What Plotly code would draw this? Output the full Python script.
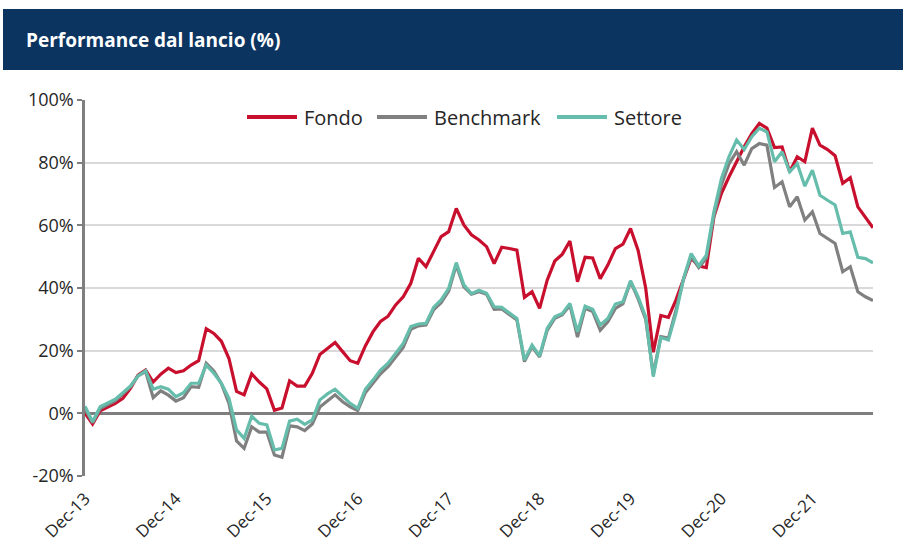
import pandas as pd
import plotly.graph_objects as go

# Monthly observations, Dec-13 .. Aug-22
months = [d.strftime("%b-%y") for d in pd.date_range("2013-12-01", periods=105, freq="MS")]
tick_labels = ["Dec-13", "Dec-14", "Dec-15", "Dec-16", "Dec-17", "Dec-18", "Dec-19", "Dec-20", "Dec-21"]
y_ticks = [-20, 0, 20, 40, 60, 80, 100]
y_tick_text = ["-20%", "0%", "20%", "40%", "60%", "80%", "100%"]

fondo = [0.0, -3.4, 0.8, 2.1, 3.2, 4.8, 8.0, 12.2, 13.8, 10.0,
         12.5, 14.4, 13.0, 13.6, 15.4, 16.8, 27.0, 25.5, 23.0, 17.5,
         7.0, 5.9, 12.6, 10.0, 7.8, 1.0, 1.7, 10.4, 8.7, 8.7,
         12.8, 18.8, 20.7, 22.6, 19.7, 16.8, 16.0, 21.5, 26.0, 29.3,
         31.0, 34.6, 37.2, 41.5, 49.5, 46.8, 51.6, 56.4, 58.0, 65.4,
         60.1, 57.0, 55.3, 53.2, 47.8, 53.0, 52.6, 52.1, 37.0, 38.8,
         33.5, 42.5, 48.6, 50.8, 55.0, 42.0, 49.8, 49.6, 43.0, 47.3,
         52.6, 54.0, 59.0, 52.0, 40.0, 19.5, 31.2, 30.6, 36.2, 43.0,
         49.5, 47.0, 46.5, 62.7, 70.2, 75.5, 80.3, 85.1, 89.3, 92.5,
         91.0, 84.8, 85.0, 77.1, 81.9, 80.3, 91.0, 85.6, 84.2, 82.2,
         73.4, 75.2, 65.9, 62.7, 59.2]

benchmark = [1.5, -3.0, 1.5, 2.8, 4.0, 6.2, 8.5, 12.0, 13.3, 5.0,
             7.2, 5.8, 3.9, 5.0, 8.5, 8.3, 16.0, 13.5, 9.5, 3.2,
             -8.8, -11.2, -4.3, -6.0, -6.0, -13.3, -14.0, -4.0, -4.3, -5.5,
             -3.4, 2.0, 4.0, 5.9, 3.7, 2.1, 0.9, 6.6, 9.6, 12.6,
             14.9, 17.9, 21.0, 26.8, 27.9, 28.2, 33.0, 35.3, 39.0, 47.3,
             40.4, 38.0, 38.8, 38.0, 33.2, 33.3, 31.5, 29.8, 16.5, 21.3,
             18.0, 26.5, 30.3, 31.5, 34.5, 24.3, 33.5, 32.5, 26.5, 29.2,
             33.5, 35.0, 42.0, 36.5, 30.0, 12.5, 24.5, 24.0, 33.0, 43.0,
             50.0, 46.5, 49.5, 63.0, 73.0, 79.7, 83.5, 79.2, 84.5, 86.1,
             85.6, 72.1, 73.9, 65.9, 69.1, 61.7, 64.3, 57.4, 55.8, 54.2,
             45.2, 46.8, 38.8, 37.2, 36.0]

settore = [2.3, -2.7, 2.1, 3.2, 4.5, 6.6, 8.7, 11.9, 13.6, 7.7,
           8.5, 7.7, 5.3, 6.6, 9.6, 9.6, 15.4, 12.8, 9.6, 4.8,
           -5.3, -8.0, -0.9, -3.2, -3.7, -11.7, -11.2, -2.5, -1.9, -3.5,
           -2.1, 4.3, 6.2, 7.7, 5.5, 3.2, 1.6, 7.7, 10.6, 13.8,
           16.0, 19.1, 22.3, 27.7, 28.5, 28.7, 33.8, 36.2, 39.9, 48.1,
           41.0, 38.2, 39.3, 38.3, 34.0, 33.8, 31.9, 30.3, 17.0, 21.8,
           18.3, 27.1, 30.8, 31.9, 35.1, 26.0, 34.2, 33.2, 28.2, 30.3,
           34.9, 35.6, 42.3, 37.2, 30.8, 11.7, 24.2, 23.4, 31.9, 43.0,
           51.0, 47.1, 50.5, 64.3, 75.0, 81.9, 87.2, 84.2, 88.3, 91.0,
           89.8, 80.3, 83.5, 77.1, 79.7, 72.5, 77.6, 69.6, 68.0, 66.5,
           57.4, 57.9, 49.8, 49.4, 48.0]

series_names = ["Fondo", "Benchmark", "Settore"]
series_values = [fondo, benchmark, settore]
series_colors = ["#C8102E", "#808080", "#66BDAC"]

FONT = "Open Sans"
fig = go.Figure()
for name, vals, col in zip(series_names, series_values, series_colors):
    fig.add_trace(go.Scatter(x=months, y=vals, name=name, mode="lines",
                             line=dict(color=col, width=3.2), showlegend=False))

# Layout geometry (pixels)
W, H = 903, 542
L, R, T, B = 85, 30, 100, 66
pw, ph = W - L - R, H - T - B

def px_x(x):
    return (x - L) / pw

def px_y(y):
    return (H - B - y) / ph

# Header band
fig.add_shape(type="rect", xref="paper", yref="paper",
              x0=px_x(3), x1=px_x(910), y0=px_y(70), y1=px_y(9),
              fillcolor="#0B3460", line=dict(width=0), layer="below")
fig.add_annotation(xref="paper", yref="paper", x=px_x(24), y=px_y(40),
                   xanchor="left", yanchor="middle", showarrow=False,
                   text="<b>Performance dal lancio (%)</b>",
                   font=dict(family=FONT, size=19, color="white"))

# Legend (drawn as line swatches + labels)
legend_line_x = [247, 377, 557]
legend_y = 117
for name, col, lx in zip(series_names, series_colors, legend_line_x):
    fig.add_shape(type="line", xref="paper", yref="paper",
                  x0=px_x(lx), x1=px_x(lx + 50), y0=px_y(legend_y), y1=px_y(legend_y),
                  line=dict(color=col, width=4))
    fig.add_annotation(xref="paper", yref="paper", x=px_x(lx + 55), y=px_y(legend_y),
                       xanchor="left", yanchor="middle", showarrow=False,
                       text=name, font=dict(family=FONT, size=20, color="#262626"))

fig.update_layout(
    width=W, height=H,
    margin=dict(l=L, r=R, t=T, b=B, autoexpand=False),
    paper_bgcolor="white", plot_bgcolor="white",
    font=dict(family=FONT, size=16, color="#262626"),
    showlegend=False,
)
fig.update_xaxes(type="category", range=[0, len(months) - 1], automargin=False,
                 tickmode="array", tickvals=tick_labels, ticktext=tick_labels,
                 tickangle=-45, showgrid=False, showline=False, zeroline=False,
                 ticks="outside", ticklen=5, tickcolor="rgba(0,0,0,0)",
                 tickfont=dict(family=FONT, size=17, color="#262626"))
fig.update_yaxes(range=[-20, 100], automargin=False,
                 tickmode="array", tickvals=y_ticks, ticktext=y_tick_text,
                 showgrid=True, gridcolor="#D9D9D9", gridwidth=2,
                 zeroline=True, zerolinecolor="#7F7F7F", zerolinewidth=2.5,
                 showline=True, linecolor="#7F7F7F", linewidth=2.5,
                 ticks="outside", ticklen=5, tickcolor="#7F7F7F", tickwidth=2,
                 tickfont=dict(family=FONT, size=18, color="#262626"))

fig.write_html("out.html", config={"displayModeBar": False},
               post_script="document.body.style.margin='0';document.body.style.overflow='hidden';")
